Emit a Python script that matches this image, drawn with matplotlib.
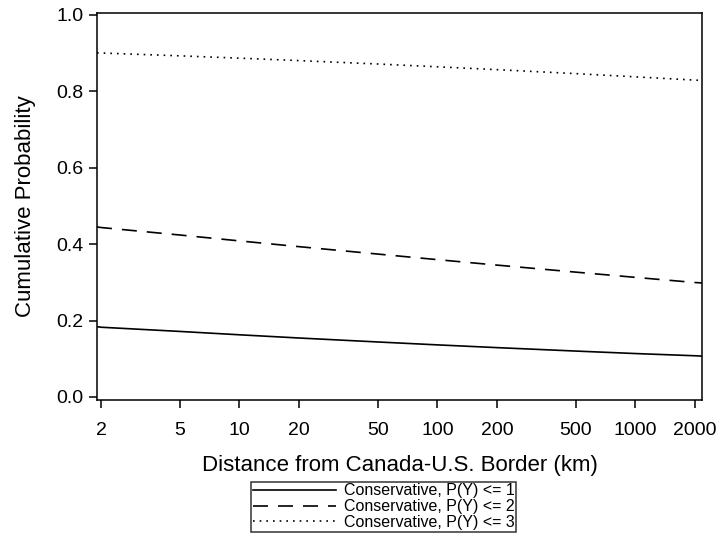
import matplotlib
matplotlib.use('Agg')
import matplotlib.pyplot as plt

plt.rcParams['font.family'] = ['Liberation Sans', 'DejaVu Sans']

# distance (km) and cumulative probabilities
dist = [1.91, 2, 5, 10, 20, 50, 100, 200, 500, 1000, 2000, 2170]
p1 = [0.184, 0.1825, 0.1715, 0.1627, 0.1543, 0.1439, 0.1363, 0.1291, 0.1201, 0.1136, 0.1078, 0.1069]
p2 = [0.445, 0.4435, 0.4239, 0.4085, 0.3934, 0.3740, 0.3594, 0.3451, 0.3267, 0.3130, 0.2995, 0.2984]
p3 = [0.901, 0.9003, 0.8929, 0.8868, 0.8804, 0.8715, 0.8642, 0.8567, 0.8463, 0.8379, 0.8293, 0.8284]
labels = ['Conservative, P(Y) <= 1', 'Conservative, P(Y) <= 2', 'Conservative, P(Y) <= 3']
xticks = [2, 5, 10, 20, 50, 100, 200, 500, 1000, 2000]
yticks = [0.0, 0.2, 0.4, 0.6, 0.8, 1.0]

fig = plt.figure(figsize=(7.19, 5.5), dpi=100)
ax = fig.add_axes([97/719, 150/550, 605/719, 387/550])

ax.plot(dist, p1, color='black', lw=1.2, label=labels[0])
ax.plot(dist, p2, color='black', lw=1.2, dashes=(9, 6), label=labels[1])
ax.plot(dist, p3, color='black', lw=1.2, dashes=(1, 3), label=labels[2])

ax.set_xscale('log')
ax.set_xlim(1.91, 2170)
ax.set_ylim(-0.008, 1.005)
ax.set_xticks(xticks)
ax.set_xticklabels([str(t) for t in xticks])
ax.minorticks_off()
ax.set_yticks(yticks)
ax.set_yticklabels(['%.1f' % t for t in yticks])
ax.tick_params(direction='out', length=6, width=1.1, labelsize=14, color='black')
ax.tick_params(axis='x', pad=10)
for s in ax.spines.values():
    s.set_linewidth(1.1)

ax.set_xlabel('Distance from Canada-U.S. Border (km)', fontsize=16, labelpad=11)
ax.set_ylabel('Cumulative Probability', fontsize=16, labelpad=15)

leg = fig.legend(loc='upper center', bbox_to_anchor=(0.534, 0.124), fontsize=11.5,
                 frameon=True, fancybox=False, handlelength=5.2, handletextpad=0.5,
                 borderpad=0.1, labelspacing=0.05, borderaxespad=0)
leg.get_frame().set_edgecolor('black')
leg.get_frame().set_linewidth(1.1)

fig.savefig('out.png', dpi=100)
